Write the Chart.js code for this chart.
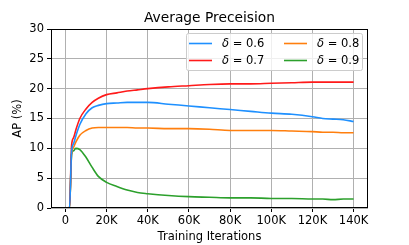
<!DOCTYPE html>
<html><head><meta charset="utf-8">
<script src="https://cdn.jsdelivr.net/npm/chart.js@4/dist/chart.umd.min.js"></script>
<style>html,body{margin:0;padding:0;background:#fff;}#wrap{width:409px;height:245px;}</style>
</head><body><div id="wrap"><canvas id="c" width="409" height="245"></canvas></div>
<script>
const chartTitle = "Average Preceision";
const xTitle = "Training Iterations";
const yTitle = "AP (%)";
const xTicks = [0, 20000, 40000, 60000, 80000, 100000, 120000, 140000];
const yTicks = [0, 5, 10, 15, 20, 25, 30];
const seriesNames = ["δ = 0.6", "δ = 0.7", "δ = 0.8", "δ = 0.9"];
const seriesColors = ["#1e90ff", "#ff1a1a", "#ff7f0e", "#2ca02c"];

const iters = [0, 2000, 3000, 4000, 5000, 7000, 10000, 13000, 16000, 20000, 25000, 30000, 35000, 40000, 50000, 60000, 70000, 80000, 90000, 100000, 110000, 120000, 125000, 130000, 135000, 140000];
const ap06 = [0, 0, 9.5, 10.8, 12.0, 14.0, 15.8, 16.8, 17.2, 17.5, 17.6, 17.7, 17.7, 17.7, 17.4, 17.1, 16.8, 16.5, 16.2, 15.9, 15.7, 15.3, 15.0, 14.9, 14.8, 14.5];
const ap07 = [0, 0, 10.5, 11.8, 13.0, 15.0, 16.6, 17.7, 18.4, 19.0, 19.3, 19.6, 19.8, 20.0, 20.3, 20.5, 20.7, 20.8, 20.8, 20.9, 21.0, 21.1, 21.1, 21.1, 21.1, 21.1];
const ap08 = [0, 0, 9.0, 10.2, 11.0, 12.2, 13.0, 13.4, 13.5, 13.5, 13.5, 13.5, 13.4, 13.4, 13.3, 13.3, 13.2, 13.0, 13.0, 13.0, 12.9, 12.8, 12.7, 12.7, 12.6, 12.6];
const ap09 = [0, 0, 9.0, 9.6, 10.0, 9.8, 8.5, 6.8, 5.3, 4.3, 3.6, 3.0, 2.6, 2.4, 2.1, 1.9, 1.8, 1.7, 1.7, 1.6, 1.6, 1.5, 1.5, 1.4, 1.5, 1.5];
const allSeries = [ap06, ap07, ap08, ap09];

const datasets = allSeries.map((s, i) => ({
  label: seriesNames[i],
  data: iters.map((x, j) => ({x: x, y: s[j]})),
  borderColor: seriesColors[i],
  backgroundColor: seriesColors[i],
  borderWidth: 1.6,
  pointRadius: 0,
  cubicInterpolationMode: 'monotone',
  fill: false
}));

const FONT = "'DejaVu Sans', sans-serif";
const FS = 11.5;

const decor = {
  id: 'decor',
  afterDraw(chart) {
    const ctx = chart.ctx, a = chart.chartArea;
    ctx.save();
    ctx.strokeStyle = '#000'; ctx.lineWidth = 1;
    ctx.strokeRect(Math.round(a.left) + 0.5, Math.round(a.top) + 0.5, Math.round(a.right - a.left) - 1, Math.round(a.bottom - a.top) - 1);
    ctx.fillStyle = '#000';
    ctx.font = '13.8px ' + FONT;
    ctx.textAlign = 'center'; ctx.textBaseline = 'middle';
    ctx.fillText(chartTitle, (a.left + a.right) / 2, 18);
    const bx = 186, by = 33, bw = 176, bh = 37;
    ctx.fillStyle = 'rgba(255,255,255,0.8)';
    ctx.strokeStyle = '#cccccc';
    ctx.beginPath();
    if (ctx.roundRect) ctx.roundRect(bx + 0.5, by + 0.5, bw, bh, 2); else ctx.rect(bx + 0.5, by + 0.5, bw, bh);
    ctx.fill(); ctx.stroke();
    const pos = [[189, 43], [189, 60], [284, 43], [284, 60]];
    chart.data.datasets.forEach((ds, i) => {
      const [hx, hy] = pos[i];
      ctx.strokeStyle = ds.borderColor; ctx.lineWidth = 1.6;
      ctx.beginPath(); ctx.moveTo(hx, hy + 0.5); ctx.lineTo(hx + 23, hy + 0.5); ctx.stroke();
      ctx.fillStyle = '#000';
      ctx.textAlign = 'left'; ctx.textBaseline = 'middle';
      const parts = ds.label.split(' ');
      ctx.font = 'italic ' + FS + 'px ' + FONT;
      ctx.fillText(parts[0], hx + 33, hy + 1);
      const w = ctx.measureText(parts[0]).width;
      ctx.font = FS + 'px ' + FONT;
      ctx.fillText(' ' + parts.slice(1).join(' '), hx + 33 + w, hy + 1);
    });
    ctx.restore();
  }
};

new Chart(document.getElementById('c'), {
  type: 'line',
  data: {datasets: datasets},
  options: {
    responsive: false,
    animation: false,
    devicePixelRatio: 1,
    layout: {padding: {left: 0, right: 41, top: 29, bottom: 0}},
    plugins: {legend: {display: false}, title: {display: false}, tooltip: {enabled: false}},
    scales: {
      x: {
        type: 'linear', min: -7000, max: 147000,
        afterBuildTicks(s) { s.ticks = xTicks.map(v => ({value: v})); },
        afterFit(s) { s.height = 37; },
        ticks: {color: '#000', font: {family: FONT, size: FS}, padding: 2, maxRotation: 0,
          callback: v => v === 0 ? '0' : (v / 1000) + 'K'},
        grid: {color: '#b0b0b0', lineWidth: 1, tickColor: '#000', tickLength: 4, drawTicks: true},
        border: {display: false},
        title: {display: true, text: xTitle, color: '#000', font: {family: FONT, size: FS}, padding: {top: 0, bottom: 1}}
      },
      y: {
        type: 'linear', min: 0, max: 30,
        afterBuildTicks(s) { s.ticks = yTicks.map(v => ({value: v})); },
        afterFit(s) { s.width = 51; },
        ticks: {color: '#000', font: {family: FONT, size: FS}, padding: 3},
        grid: {color: '#b0b0b0', lineWidth: 1, tickColor: '#000', tickLength: 4, drawTicks: true},
        border: {display: false},
        title: {display: true, text: yTitle, color: '#000', font: {family: FONT, size: FS}, padding: {top: 11, bottom: 0}}
      }
    }
  },
  plugins: [decor]
});
</script>
</body></html>
